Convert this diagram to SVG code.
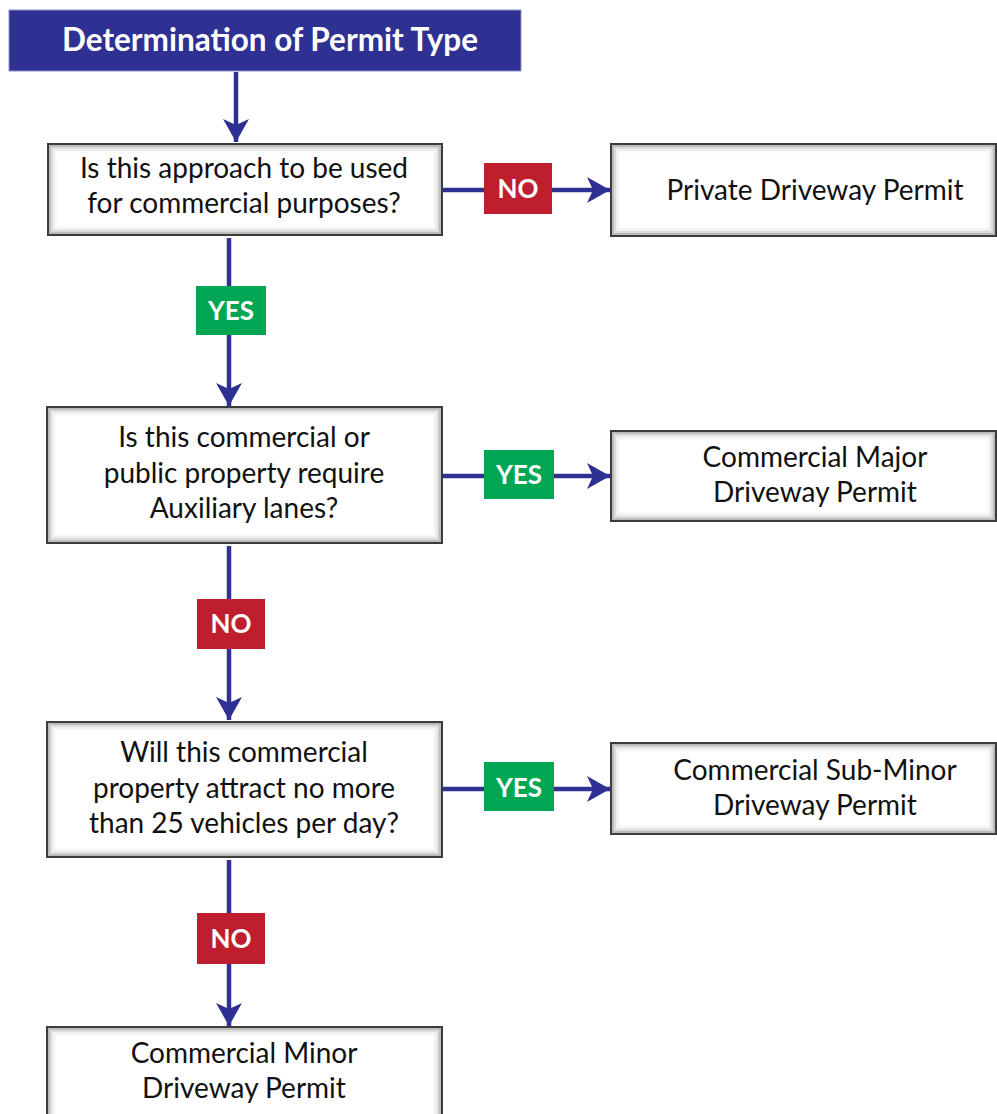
<svg xmlns="http://www.w3.org/2000/svg" width="997" height="1114" viewBox="0 0 997 1114">
  <style>
    .box { fill: #ffffff; }
    .frame { fill: none; stroke: #3c3c3c; stroke-width: 2; }
    .g1 { fill: none; stroke: #7a7a7a; stroke-width: 2; stroke-opacity: 0.5; }
    .g2 { fill: none; stroke: #8a8a8a; stroke-width: 2; stroke-opacity: 0.3; }
    .g3 { fill: none; stroke: #9a9a9a; stroke-width: 2; stroke-opacity: 0.16; }
    .g4 { fill: none; stroke: #aaaaaa; stroke-width: 2; stroke-opacity: 0.07; }
    .txt { font-family: Lato, "Liberation Sans", sans-serif; font-size: 28px; fill: #111111; text-anchor: middle; }
    .title { font-family: Lato, "Liberation Sans", sans-serif; font-weight: bold; font-size: 31.5px; fill: #ffffff; text-anchor: middle; }
    .lbl { font-family: Lato, "Liberation Sans", sans-serif; font-weight: bold; font-size: 26px; fill: #ffffff; text-anchor: middle; }
    .line { fill: none; stroke: #2e3192; stroke-width: 4.5; marker-end: url(#arrow); }
    .no { fill: #be1e2d; }
    .yes { fill: #00a651; }
  </style>
  <defs>
    <marker id="arrow" markerUnits="userSpaceOnUse" markerWidth="24" markerHeight="26" refX="23" refY="13" orient="auto" viewBox="0 0 24 26">
      <path d="M0,0 L23,13 L0,26 L6,13 z" fill="#2e3192"/>
    </marker>
  </defs>

  <!-- connectors -->
  <g id="connectors">
    <line class="line" x1="236" y1="72" x2="236" y2="142"/>
    <line class="line" x1="443" y1="190" x2="610" y2="190"/>
    <line class="line" x1="229" y1="238" x2="229" y2="406"/>
    <line class="line" x1="443" y1="476" x2="610" y2="476"/>
    <line class="line" x1="229" y1="546" x2="229" y2="720"/>
    <line class="line" x1="443" y1="789" x2="610" y2="789"/>
    <line class="line" x1="229" y1="860" x2="229" y2="1026"/>
    <g id="label-no-1">
      <rect class="no" x="484" y="163" width="68" height="51"/>
      <text class="lbl" x="518" y="198">NO</text>
    </g>
    <g id="label-yes-1">
      <rect class="yes" x="196" y="286" width="70" height="49"/>
      <text class="lbl" x="231" y="320">YES</text>
    </g>
    <g id="label-yes-2">
      <rect class="yes" x="484" y="450" width="70" height="49"/>
      <text class="lbl" x="519" y="484">YES</text>
    </g>
    <g id="label-no-2">
      <rect class="no" x="197" y="599" width="68" height="50"/>
      <text class="lbl" x="231" y="633">NO</text>
    </g>
    <g id="label-yes-3">
      <rect class="yes" x="484" y="762" width="70" height="49"/>
      <text class="lbl" x="519" y="797">YES</text>
    </g>
    <g id="label-no-3">
      <rect class="no" x="197" y="913" width="68" height="51"/>
      <text class="lbl" x="231" y="948">NO</text>
    </g>
  </g>

  <g id="title">
    <rect x="9" y="10" width="512" height="61" fill="#2e3192" stroke="#8f91c8" stroke-width="1"/>
    <text class="title" x="270" y="51">Determination of Permit Type</text>
  </g>

  <g id="q1">
    <rect class="box" x="48" y="144" width="394" height="91"/>
    <rect class="g1" x="50" y="146" width="390" height="87"/>
    <rect class="g2" x="52" y="148" width="386" height="83"/>
    <rect class="g3" x="54" y="150" width="382" height="79"/>
    <rect class="g4" x="56" y="152" width="378" height="75"/>
    <rect class="frame" x="48" y="144" width="394" height="91"/>
    <text class="txt" x="244" y="178">Is this approach to be used</text>
    <text class="txt" x="244" y="213">for commercial purposes?</text>
  </g>

  <g id="private">
    <rect class="box" x="611" y="144" width="385" height="92"/>
    <rect class="g1" x="613" y="146" width="381" height="88"/>
    <rect class="g2" x="615" y="148" width="377" height="84"/>
    <rect class="g3" x="617" y="150" width="373" height="80"/>
    <rect class="g4" x="619" y="152" width="369" height="76"/>
    <rect class="frame" x="611" y="144" width="385" height="92"/>
    <text class="txt" x="815" y="200">Private Driveway Permit</text>
  </g>

  <g id="q2">
    <rect class="box" x="47" y="407" width="395" height="136"/>
    <rect class="g1" x="49" y="409" width="391" height="132"/>
    <rect class="g2" x="51" y="411" width="387" height="128"/>
    <rect class="g3" x="53" y="413" width="383" height="124"/>
    <rect class="g4" x="55" y="415" width="379" height="120"/>
    <rect class="frame" x="47" y="407" width="395" height="136"/>
    <text class="txt" x="244" y="447">Is this commercial or</text>
    <text class="txt" x="244" y="483">public property require</text>
    <text class="txt" x="244" y="518">Auxiliary lanes?</text>
  </g>

  <g id="major">
    <rect class="box" x="611" y="431" width="385" height="90"/>
    <rect class="g1" x="613" y="433" width="381" height="86"/>
    <rect class="g2" x="615" y="435" width="377" height="82"/>
    <rect class="g3" x="617" y="437" width="373" height="78"/>
    <rect class="g4" x="619" y="439" width="369" height="74"/>
    <rect class="frame" x="611" y="431" width="385" height="90"/>
    <text class="txt" x="815" y="467">Commercial Major</text>
    <text class="txt" x="815" y="502">Driveway Permit</text>
  </g>

  <g id="q3">
    <rect class="box" x="47" y="722" width="395" height="135"/>
    <rect class="g1" x="49" y="724" width="391" height="131"/>
    <rect class="g2" x="51" y="726" width="387" height="127"/>
    <rect class="g3" x="53" y="728" width="383" height="123"/>
    <rect class="g4" x="55" y="730" width="379" height="119"/>
    <rect class="frame" x="47" y="722" width="395" height="135"/>
    <text class="txt" x="244" y="762">Will this commercial</text>
    <text class="txt" x="244" y="798">property attract no more</text>
    <text class="txt" x="244" y="833">than 25 vehicles per day?</text>
  </g>

  <g id="subminor">
    <rect class="box" x="611" y="743" width="385" height="91"/>
    <rect class="g1" x="613" y="745" width="381" height="87"/>
    <rect class="g2" x="615" y="747" width="377" height="83"/>
    <rect class="g3" x="617" y="749" width="373" height="79"/>
    <rect class="g4" x="619" y="751" width="369" height="75"/>
    <rect class="frame" x="611" y="743" width="385" height="91"/>
    <text class="txt" x="815" y="780">Commercial Sub-Minor</text>
    <text class="txt" x="815" y="815">Driveway Permit</text>
  </g>

  <g id="minor">
    <rect class="box" x="47" y="1027" width="395" height="100"/>
    <rect class="g1" x="49" y="1029" width="391" height="96"/>
    <rect class="g2" x="51" y="1031" width="387" height="92"/>
    <rect class="g3" x="53" y="1033" width="383" height="88"/>
    <rect class="g4" x="55" y="1035" width="379" height="84"/>
    <rect class="frame" x="47" y="1027" width="395" height="100"/>
    <text class="txt" x="244" y="1063">Commercial Minor</text>
    <text class="txt" x="244" y="1098">Driveway Permit</text>
  </g>
</svg>
